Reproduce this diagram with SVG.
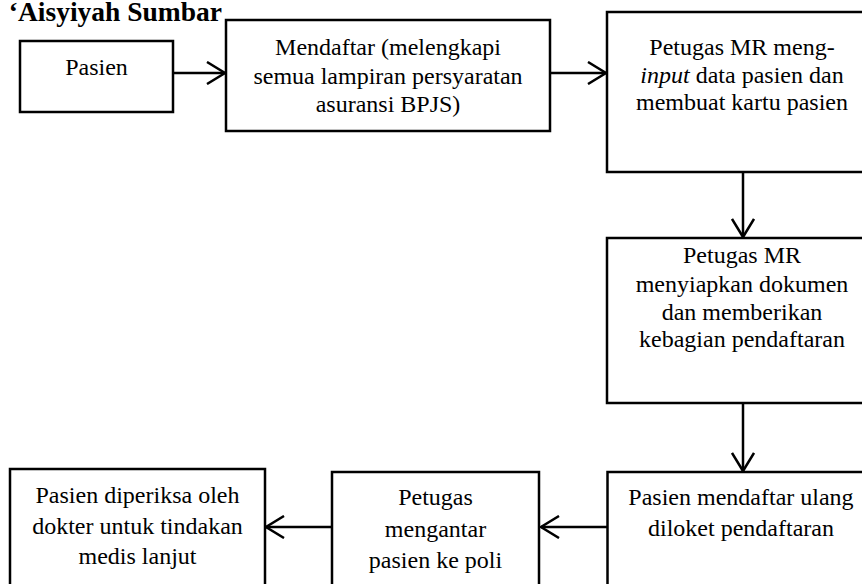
<svg xmlns="http://www.w3.org/2000/svg" width="862" height="584" viewBox="0 0 862 584">
  <defs>
    <style>
      .box { fill: #ffffff; stroke: #000000; stroke-width: 2.5; }
      .conn { fill: none; stroke: #000000; stroke-width: 2.5; }
    </style>
    <marker id="arr" viewBox="0 0 24 24" refX="21" refY="12" markerWidth="24" markerHeight="24" markerUnits="userSpaceOnUse" orient="auto">
      <path d="M3,1 L21,12 L3,23" fill="none" stroke="#000000" stroke-width="2.5"/>
    </marker>
  </defs>
  <rect width="862" height="584" fill="#ffffff"/>

  <text x="222" y="20.5" font-family="Liberation Serif" font-size="27.5" font-weight="bold" text-anchor="end">‘Aisyiyah Sumbar</text>

  <g id="connectors">
    <line class="conn" x1="173" y1="73" x2="225" y2="73" marker-end="url(#arr)"/>
    <line class="conn" x1="550" y1="73" x2="606" y2="73" marker-end="url(#arr)"/>
    <line class="conn" x1="743" y1="172" x2="743" y2="237" marker-end="url(#arr)"/>
    <line class="conn" x1="743" y1="403" x2="743" y2="471" marker-end="url(#arr)"/>
    <line class="conn" x1="607" y1="527" x2="541" y2="527" marker-end="url(#arr)"/>
    <line class="conn" x1="332" y1="527" x2="266" y2="527" marker-end="url(#arr)"/>
  </g>

  <g id="n-pasien">
    <rect class="box" x="20" y="41" width="153" height="71"/>
    <text x="96.5" y="75" font-family="Liberation Serif" font-size="24" text-anchor="middle">Pasien</text>
  </g>

  <g id="n-mendaftar">
    <rect class="box" x="226" y="20" width="324" height="111"/>
    <text x="388" y="55" font-family="Liberation Serif" font-size="24" text-anchor="middle">Mendaftar (melengkapi</text>
    <text x="388" y="84" font-family="Liberation Serif" font-size="24" text-anchor="middle">semua lampiran persyaratan</text>
    <text x="388" y="112" font-family="Liberation Serif" font-size="24" text-anchor="middle">asuransi BPJS)</text>
  </g>

  <g id="n-input">
    <rect class="box" x="607" y="12" width="272" height="160"/>
    <text x="742" y="55" font-family="Liberation Serif" font-size="24" text-anchor="middle">Petugas MR meng-</text>
    <text x="742" y="83" font-family="Liberation Serif" font-size="24" text-anchor="middle"><tspan font-style="italic">input</tspan> data pasien dan</text>
    <text x="742" y="110" font-family="Liberation Serif" font-size="24" text-anchor="middle">membuat kartu pasien</text>
  </g>

  <g id="n-siapkan">
    <rect class="box" x="607" y="238" width="272" height="165"/>
    <text x="742" y="263" font-family="Liberation Serif" font-size="24" text-anchor="middle">Petugas MR</text>
    <text x="742" y="291.5" font-family="Liberation Serif" font-size="24" text-anchor="middle">menyiapkan dokumen</text>
    <text x="742" y="319.5" font-family="Liberation Serif" font-size="24" text-anchor="middle">dan memberikan</text>
    <text x="742" y="347" font-family="Liberation Serif" font-size="24" text-anchor="middle">kebagian pendaftaran</text>
  </g>

  <g id="n-ulang">
    <rect class="box" x="607.5" y="472" width="272" height="130"/>
    <text x="741" y="505" font-family="Liberation Serif" font-size="24" text-anchor="middle">Pasien mendaftar ulang</text>
    <text x="741" y="535.5" font-family="Liberation Serif" font-size="24" text-anchor="middle">diloket pendaftaran</text>
  </g>

  <g id="n-antar">
    <rect class="box" x="332" y="472" width="207" height="130"/>
    <text x="435.5" y="505" font-family="Liberation Serif" font-size="24" text-anchor="middle">Petugas</text>
    <text x="435.5" y="537" font-family="Liberation Serif" font-size="24" text-anchor="middle">mengantar</text>
    <text x="435.5" y="568" font-family="Liberation Serif" font-size="24" text-anchor="middle">pasien ke poli</text>
  </g>

  <g id="n-periksa">
    <rect class="box" x="10" y="469" width="255" height="130"/>
    <text x="137.5" y="503" font-family="Liberation Serif" font-size="24" text-anchor="middle">Pasien diperiksa oleh</text>
    <text x="137.5" y="534" font-family="Liberation Serif" font-size="24" text-anchor="middle">dokter untuk tindakan</text>
    <text x="137.5" y="564" font-family="Liberation Serif" font-size="24" text-anchor="middle">medis lanjut</text>
  </g>
</svg>
